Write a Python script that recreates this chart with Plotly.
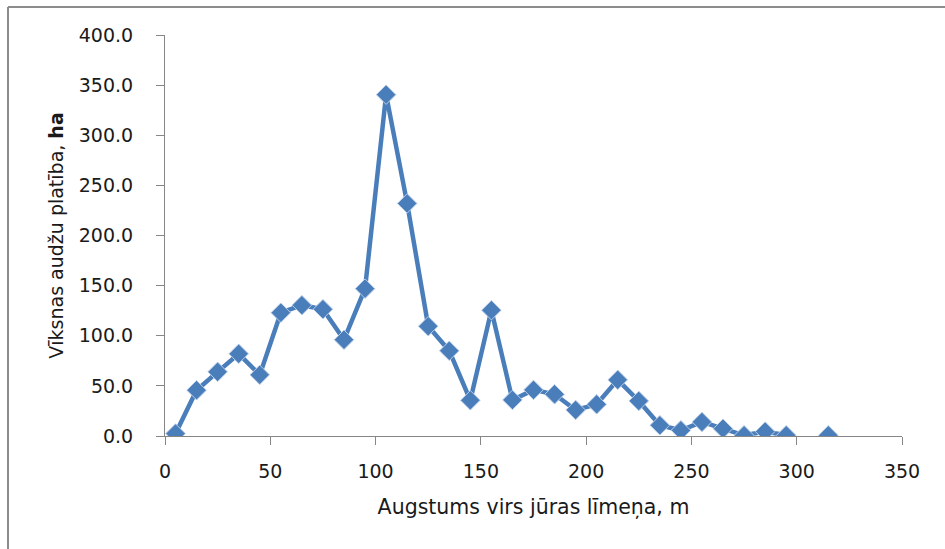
import plotly.graph_objects as go

# Elevation bands (m above sea level) and elm stand area (ha)
altitude = [5, 15, 25, 35, 45, 55, 65, 75, 85, 95, 105, 115, 125, 135, 145,
            155, 165, 175, 185, 195, 205, 215, 225, 235, 245, 255, 265, 275,
            285, 295, 305, 315]
area_ha = [2.4, 45.7, 64.0, 82.0, 61.0, 123.0, 130.5, 126.5, 96.0, 147.0,
           340.5, 232.0, 109.5, 85.0, 35.6, 125.5, 36.0, 46.0, 41.6, 26.0,
           31.6, 56.0, 35.0, 10.7, 5.7, 14.0, 7.3, 0.7, 4.4, 0.7, None, 0.7]

y_ticks = [0, 50, 100, 150, 200, 250, 300, 350, 400]
y_tick_text = [f"{v:.1f}" for v in y_ticks]
x_ticks = [0, 50, 100, 150, 200, 250, 300, 350]

W, H = 945, 549
M_L, M_R, M_T, M_B = 165, 43, 35, 113

BLUE = "#4a7ebb"
AXIS = "#868686"
FONT = "DejaVu Sans"

fig = go.Figure()
fig.add_trace(go.Scatter(
    x=altitude, y=area_ha,
    mode="lines+markers",
    connectgaps=False,
    line=dict(color=BLUE, width=4.5),
    marker=dict(symbol="diamond", size=15, color=BLUE,
                line=dict(color="#b9cde8", width=1)),
    showlegend=False,
    hoverinfo="x+y",
))


def px_to_paper_x(px):
    return (px - M_L) / (W - M_L - M_R)


def px_to_paper_y(py):
    return 1 - (py - M_T) / (H - M_T - M_B)


# Outer chart frame (left and top edges visible)
fig.add_shape(type="line", xref="paper", yref="paper",
              x0=px_to_paper_x(8), x1=px_to_paper_x(8),
              y0=px_to_paper_y(7), y1=px_to_paper_y(560),
              line=dict(color="#8c8c8c", width=2))
fig.add_shape(type="line", xref="paper", yref="paper",
              x0=px_to_paper_x(8), x1=px_to_paper_x(960),
              y0=px_to_paper_y(7), y1=px_to_paper_y(7),
              line=dict(color="#8c8c8c", width=2))

fig.update_layout(
    width=W, height=H,
    margin=dict(l=M_L, r=M_R, t=M_T, b=M_B, pad=0),
    paper_bgcolor="white",
    plot_bgcolor="white",
    font=dict(family=FONT, size=19, color="#1a1a1a"),
    xaxis=dict(
        range=[0, 350],
        tickvals=x_ticks,
        ticks="outside", ticklen=8, tickcolor=AXIS, tickwidth=1,
        showline=True, linecolor=AXIS, linewidth=1,
        showgrid=False, zeroline=False,
        tickfont=dict(family=FONT, size=19),
        ticklabelstandoff=10,
        title=dict(text="Augstums virs jūras līmeņa, m",
                   font=dict(family=FONT, size=20.5), standoff=18),
    ),
    yaxis=dict(
        range=[0, 400],
        tickvals=y_ticks, ticktext=y_tick_text,
        ticks="outside", ticklen=8, tickcolor=AXIS, tickwidth=1,
        showline=True, linecolor=AXIS, linewidth=1,
        showgrid=False, zeroline=False,
        tickfont=dict(family=FONT, size=19),
        ticklabelstandoff=19,
        title=dict(text="Vīksnas audžu platība, <b>ha</b>",
                   font=dict(family=FONT, size=19), standoff=10),
    ),
)

fig.write_html("out.html")
